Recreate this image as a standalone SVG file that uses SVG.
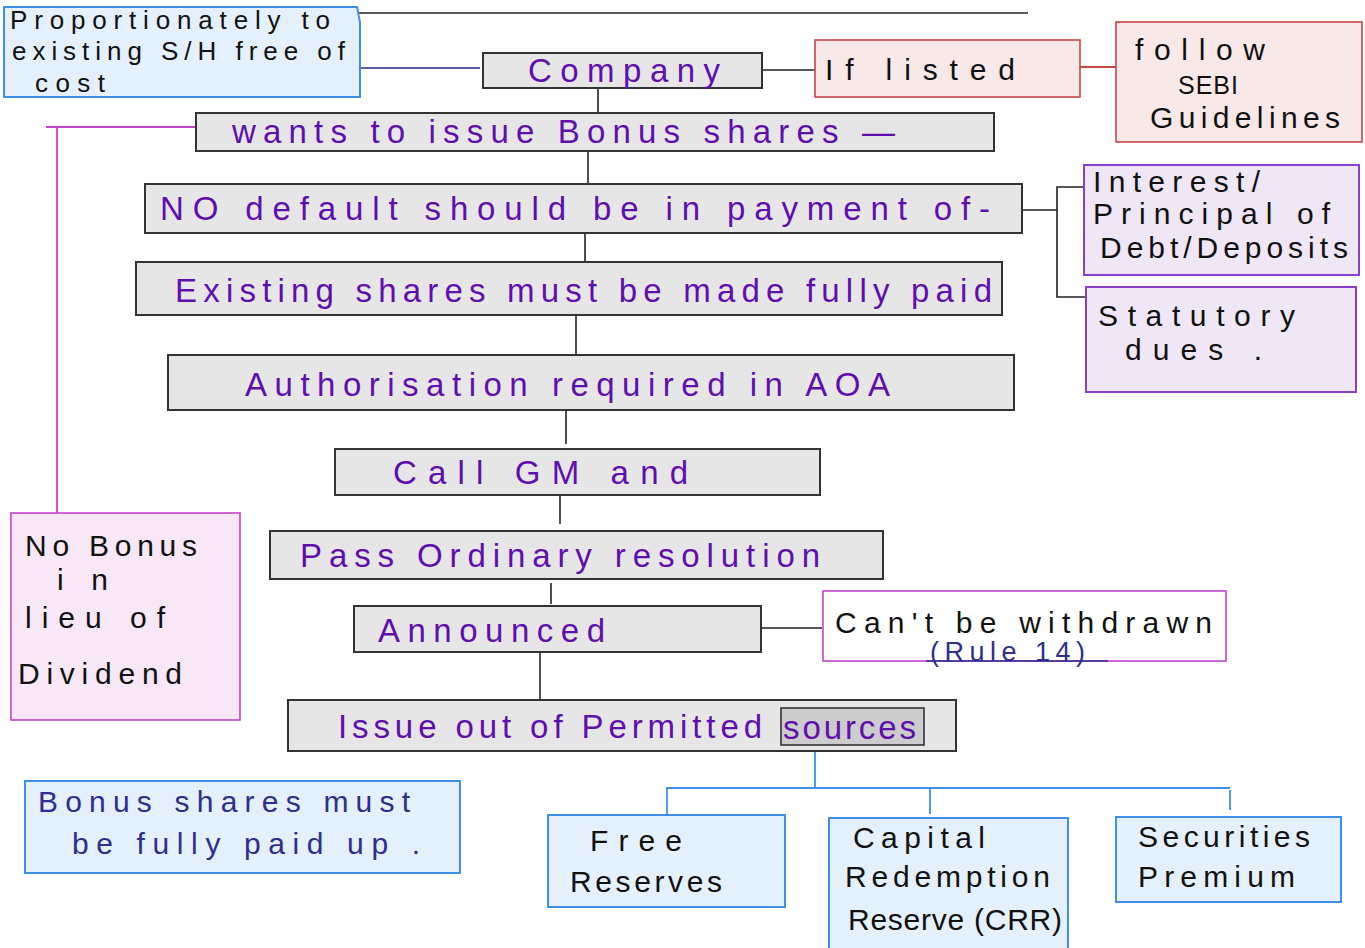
<svg xmlns="http://www.w3.org/2000/svg" width="1365" height="948" viewBox="0 0 1365 948">
<style>
text{font-family:"Liberation Sans",Arial,sans-serif;}
.g{fill:#e6e6e6;stroke:#333;stroke-width:2}
.pt{fill:#5e0fae;font-size:33px}
.bt{fill:#111;font-size:30px}
.nt{fill:#2e2e8c;font-size:30px}
.blue{fill:#e4f0fc;stroke:#3d8fe8;stroke-width:2}
.pink{fill:#f8e8e8;stroke:#c94444;stroke-width:1.6}
.lav{fill:#efe6f6;stroke:#8a3fc8;stroke-width:2}
.mag{fill:#f7e7f7;stroke:#c444c8;stroke-width:1.6}
.k{stroke:#222;stroke-width:1.6;fill:none}
</style>
<g id="connectors">
<line x1="307" y1="13" x2="1028" y2="13" class="k"/>
<line x1="361" y1="68" x2="480" y2="68" stroke="#5a5aa8" stroke-width="1.8"/>
<line x1="762" y1="70" x2="815" y2="70" class="k"/>
<line x1="1080" y1="67" x2="1116" y2="67" stroke="#c94444" stroke-width="1.8"/>
<line x1="598" y1="88" x2="598" y2="113" class="k"/>
<polyline points="196,127 46,127" stroke="#c444c8" stroke-width="1.8" fill="none"/>
<line x1="57" y1="127" x2="57" y2="513" stroke="#c444c8" stroke-width="1.8"/>
<line x1="588" y1="151" x2="588" y2="184" class="k"/>
<line x1="1022" y1="210" x2="1057" y2="210" class="k"/>
<polyline points="1083,187 1057,187 1057,297 1085,297" class="k"/>
<line x1="585" y1="233" x2="585" y2="262" class="k"/>
<line x1="576" y1="315" x2="576" y2="355" class="k"/>
<line x1="566" y1="410" x2="566" y2="444" class="k"/>
<line x1="560" y1="495" x2="560" y2="524" class="k"/>
<line x1="551" y1="583" x2="551" y2="604" class="k"/>
<line x1="761" y1="628" x2="822" y2="628" class="k"/>
<line x1="540" y1="652" x2="540" y2="700" class="k"/>
<line x1="815" y1="751" x2="815" y2="788" stroke="#3d8fe8" stroke-width="1.8"/>
<line x1="666" y1="788" x2="1230" y2="788" stroke="#3d8fe8" stroke-width="1.8"/>
<line x1="667" y1="788" x2="667" y2="815" stroke="#3d8fe8" stroke-width="1.8"/>
<line x1="930" y1="788" x2="930" y2="814" stroke="#3d8fe8" stroke-width="1.8"/>
<line x1="1230" y1="790" x2="1230" y2="810" stroke="#3d8fe8" stroke-width="1.8"/>
</g>
<g id="proportionately">
<path d="M4,97 L4,7 L357,7 L360,22 L360,97 Z" class="blue"/>
<text class="bt" x="10" y="29" textLength="320" lengthAdjust="spacing" style="font-size:26px">Proportionately to</text>
<text class="bt" x="12" y="60" textLength="333" lengthAdjust="spacing" style="font-size:26px">existing S/H free of</text>
<text class="bt" x="35" y="92" textLength="70" lengthAdjust="spacing" style="font-size:26px">cost</text>
</g>
<g id="company">
<rect x="483" y="53" width="279" height="35" class="g"/>
<text class="pt" x="528" y="82" textLength="192" lengthAdjust="spacing">Company</text>
</g>
<g id="iflisted">
<rect x="815" y="40" width="265" height="57" class="pink"/>
<text class="bt" x="825" y="80" textLength="190" lengthAdjust="spacing">If listed</text>
</g>
<g id="sebi">
<rect x="1116" y="22" width="246" height="120" class="pink"/>
<text class="bt" x="1135" y="60" textLength="130" lengthAdjust="spacing">follow</text>
<text class="bt" x="1178" y="94" textLength="60" lengthAdjust="spacing" style="font-size:25px">SEBI</text>
<text class="bt" x="1150" y="128" textLength="190" lengthAdjust="spacing">Guidelines</text>
</g>
<g id="wants">
<rect x="196" y="113" width="798" height="38" class="g"/>
<text class="pt" x="232" y="143" textLength="663" lengthAdjust="spacing">wants to issue Bonus shares —</text>
</g>
<g id="nodefault">
<rect x="145" y="184" width="877" height="49" class="g"/>
<text class="pt" x="160" y="220" textLength="830" lengthAdjust="spacing">NO default should be in payment of-</text>
</g>
<g id="interest">
<rect x="1084" y="165" width="275" height="110" class="lav"/>
<text class="bt" x="1093" y="192" textLength="167" lengthAdjust="spacing">Interest/</text>
<text class="bt" x="1093" y="224" textLength="237" lengthAdjust="spacing">Principal of</text>
<text class="bt" x="1100" y="258" textLength="248" lengthAdjust="spacing">Debt/Deposits</text>
</g>
<g id="statutory">
<rect x="1086" y="287" width="270" height="105" class="lav"/>
<text class="bt" x="1098" y="326" textLength="197" lengthAdjust="spacing">Statutory</text>
<text class="bt" x="1125" y="360" textLength="137" lengthAdjust="spacing">dues .</text>
</g>
<g id="existing">
<rect x="136" y="262" width="866" height="53" class="g"/>
<text class="pt" x="175" y="302" textLength="817" lengthAdjust="spacing">Existing shares must be made fully paid</text>
</g>
<g id="authorisation">
<rect x="168" y="355" width="846" height="55" class="g"/>
<text class="pt" x="245" y="396" textLength="645" lengthAdjust="spacing">Authorisation required in AOA</text>
</g>
<g id="callgm">
<rect x="335" y="449" width="485" height="46" class="g"/>
<text class="pt" x="393" y="484" textLength="295" lengthAdjust="spacing">Call  GM  and</text>
</g>
<g id="pass">
<rect x="270" y="531" width="613" height="48" class="g"/>
<text class="pt" x="300" y="567" textLength="520" lengthAdjust="spacing">Pass Ordinary resolution</text>
</g>
<g id="announced">
<rect x="354" y="606" width="407" height="46" class="g"/>
<text class="pt" x="378" y="642" textLength="227" lengthAdjust="spacing">Announced</text>
</g>
<g id="withdrawn">
<rect x="823" y="591" width="403" height="70" fill="#fff" stroke="#c444c8" stroke-width="1.6"/>
<text class="bt" x="835" y="633" textLength="377" lengthAdjust="spacing">Can't be withdrawn</text>
<text class="nt" x="930" y="661" textLength="155" lengthAdjust="spacing" style="font-size:27px">(Rule 14)</text>
<line x1="926" y1="661" x2="1108" y2="661" stroke="#2e2e8c" stroke-width="1.4"/>
</g>
<g id="issue">
<rect x="288" y="700" width="668" height="51" class="g"/>
<rect x="781" y="708" width="143" height="37" fill="#cccccc" stroke="#333" stroke-width="1.6"/>
<text class="pt" x="338" y="738" textLength="424" lengthAdjust="spacing">Issue out of Permitted</text>
<text class="pt" x="783" y="739" textLength="133" lengthAdjust="spacing">sources</text>
</g>
<g id="nobonus">
<rect x="11" y="513" width="229" height="207" class="mag"/>
<text class="bt" x="25" y="556" textLength="172" lengthAdjust="spacing">No Bonus</text>
<text class="bt" x="57" y="590" textLength="51" lengthAdjust="spacing">in</text>
<text class="bt" x="25" y="628" textLength="140" lengthAdjust="spacing">lieu of</text>
<text class="bt" x="18" y="684" textLength="164" lengthAdjust="spacing">Dividend</text>
</g>
<g id="fullypaid">
<rect x="25" y="781" width="435" height="92" class="blue"/>
<text class="nt" x="38" y="812" textLength="372" lengthAdjust="spacing">Bonus shares must</text>
<text class="nt" x="72" y="854" textLength="348" lengthAdjust="spacing">be fully paid up .</text>
</g>
<g id="freereserves">
<rect x="548" y="815" width="237" height="92" class="blue"/>
<text class="bt" x="590" y="851" textLength="92" lengthAdjust="spacing">Free</text>
<text class="bt" x="570" y="892" textLength="152" lengthAdjust="spacing">Reserves</text>
</g>
<g id="crr">
<rect x="829" y="818" width="239" height="140" class="blue"/>
<text class="bt" x="853" y="848" textLength="132" lengthAdjust="spacing">Capital</text>
<text class="bt" x="845" y="887" textLength="205" lengthAdjust="spacing">Redemption</text>
<text class="bt" x="848" y="930" textLength="214" lengthAdjust="spacing">Reserve (CRR)</text>
</g>
<g id="securities">
<rect x="1116" y="817" width="225" height="85" class="blue"/>
<text class="bt" x="1138" y="847" textLength="172" lengthAdjust="spacing">Securities</text>
<text class="bt" x="1138" y="887" textLength="157" lengthAdjust="spacing">Premium</text>
</g>
</svg>
